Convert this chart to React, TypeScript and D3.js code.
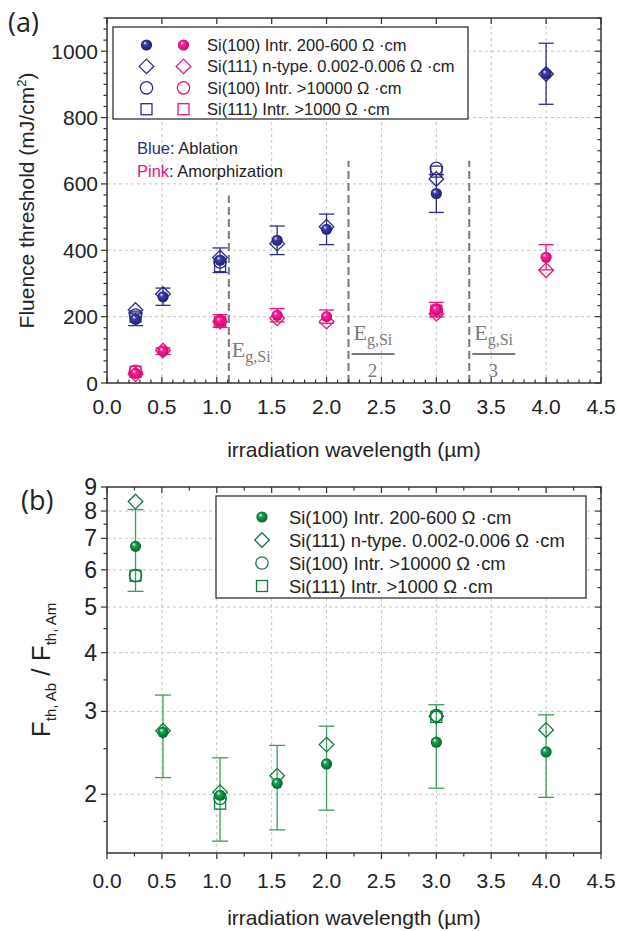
import React from 'react';
import * as d3 from 'd3';

// Irradiation wavelengths (µm)
const wavelengths = [0.26, 0.51, 1.03, 1.55, 2.0, 3.0, 4.0];
const sparseWavelengths = [0.26, 1.03, 3.0];

// Ablation thresholds (mJ/cm²)
const ablSi100Low = [192, 260, 370, 430, 463, 571, 932];
const ablSi100LowErr = [19, 26, 37, 43, 46, 57, 92];
const ablSi111N = [220, 268, 378, 420, 471, 615, 931];
const ablSi100High = [205, 365, 647];
const ablSi111Intr = [200, 352, 637];

// Amorphization thresholds (mJ/cm²)
const amoSi100Low = [29, 96, 187, 204, 200, 221, 379];
const amoSi100LowErr = [3, 10, 19, 20, 20, 22, 38];
const amoSi111N = [26, 98, 185, 195, 185, 209, 340];
const amoSi100High = [35, 186, 220];
const amoSi111Intr = [34, 184, 218];

// Threshold ratio F_th,Ab / F_th,Am
const ratioSi100Low = [6.73, 2.71, 1.99, 2.11, 2.32, 2.58, 2.46];
const ratioSi100LowErr = [1.33, 0.54, 0.4, 0.43, 0.47, 0.52, 0.49];
const ratioSi111N = [8.38, 2.73, 2.02, 2.19, 2.55, 2.93, 2.74];
const ratioSi100High = [5.83, 1.96, 2.94];
const ratioSi111Intr = [5.83, 1.91, 2.92];

// Band-gap wavelength multiples (µm) and the top of each marker line (mJ/cm²)
const bandGapLines = [1.11, 2.2, 3.3];
const bandGapLineTops = [565, 670, 670];

const legendLabels = [
  'Si(100) Intr. 200-600 \u03A9 \u00B7cm',
  'Si(111) n-type. 0.002-0.006 \u03A9 \u00B7cm',
  'Si(100) Intr. >10000 \u03A9 \u00B7cm',
  'Si(111) Intr. >1000 \u03A9 \u00B7cm',
];

const xTickLabels = ['0.0', '0.5', '1.0', '1.5', '2.0', '2.5', '3.0', '3.5', '4.0', '4.5'];
const yTicksA = [0, 200, 400, 600, 800, 1000];
const yTicksB = [2, 3, 4, 5, 6, 7, 8, 9];
const yMinorB = [1.75, 2.5, 3.5, 4.5, 5.5, 6.5, 7.5, 8.5];

const BLUE = '#2b2d86';
const PINK = '#e8137c';
const GREEN = '#0f7d3c';
const GREEN_ERR = '#3f9c5d';
const FRAME = '#333';
const GRID = '#c4c4c4';
const GAP = '#7a7a7a';
const SANS = '"Liberation Sans", Arial, sans-serif';
const SERIF = '"Liberation Serif", "DejaVu Serif", serif';

const xA = d3.scaleLinear().domain([0, 4.5]).range([107, 601]);
const yA = d3.scaleLinear().domain([0, 1100]).range([383, 18]);
const xB = d3.scaleLinear().domain([0, 4.5]).range([107, 601]);
const yB = d3.scaleLog().domain([1.5, 9]).range([853, 487]);

type Shape = 'sphere' | 'diamond' | 'circle' | 'square';

function Marker({ shape, x, y, color, grad, size = 1 }: { shape: Shape; x: number; y: number; color: string; grad: string; size?: number }) {
  const sw = 1.3;
  if (shape === 'sphere') return <circle cx={x} cy={y} r={5.6 * size} fill={`url(#${grad})`} />;
  if (shape === 'circle') return <circle cx={x} cy={y} r={6.2 * size} fill="none" stroke={color} strokeWidth={sw} />;
  if (shape === 'square') {
    const h = 5.5 * size;
    return <rect x={x - h} y={y - h} width={2 * h} height={2 * h} fill="none" stroke={color} strokeWidth={sw} />;
  }
  const d = 7.3 * size;
  return <path d={`M${x},${y - d}L${x + d},${y}L${x},${y + d}L${x - d},${y}Z`} fill="none" stroke={color} strokeWidth={sw} />;
}

function ErrorBars({ xs, ys, errs, xScale, yScale, color, cap, width = 1.3 }: any) {
  return (
    <g stroke={color} strokeWidth={width}>
      {xs.map((w: number, i: number) => {
        const x = xScale(w);
        const y1 = yScale(ys[i] + errs[i]);
        const y2 = yScale(ys[i] - errs[i]);
        return (
          <g key={i}>
            <line x1={x} x2={x} y1={y1} y2={y2} />
            <line x1={x - cap} x2={x + cap} y1={y1} y2={y1} />
            <line x1={x - cap} x2={x + cap} y1={y2} y2={y2} />
          </g>
        );
      })}
    </g>
  );
}

function Series({ xs, ys, shape, xScale, yScale, color, grad }: any) {
  return (
    <g>
      {xs.map((w: number, i: number) => (
        <Marker key={i} shape={shape} x={xScale(w)} y={yScale(ys[i])} color={color} grad={grad} />
      ))}
    </g>
  );
}

function Frame({ x0, x1, y0, y1 }: { x0: number; x1: number; y0: number; y1: number }) {
  return <rect x={x0} y={y1} width={x1 - x0} height={y0 - y1} fill="none" stroke={FRAME} strokeWidth={1.5} />;
}

function SphereGradient({ id, color }: { id: string; color: string }) {
  const c = d3.color(color)!;
  return (
    <radialGradient id={id} cx="0.5" cy="0.5" r="0.55" fx="0.33" fy="0.3">
      <stop offset="0" stopColor="#ffffff" />
      <stop offset="0.3" stopColor={c.brighter(0.9).formatHex()} />
      <stop offset="0.65" stopColor={color} />
      <stop offset="1" stopColor={c.darker(0.8).formatHex()} />
    </radialGradient>
  );
}

function EgLabel({ x, y, anchor = 'start' }: { x: number; y: number; anchor?: 'start' | 'middle' }) {
  return (
    <text x={x} y={y} fontFamily={SERIF} fontSize={22} fill={GAP} textAnchor={anchor}>
      E
      <tspan fontSize={16} dy={5}>g,Si</tspan>
    </text>
  );
}

function PanelA() {
  const [x0, x1] = xA.range();
  const [y0, y1] = yA.range();
  const xMinor = d3.range(0, 4.5001, 0.1);
  const yMinor = d3.range(0, 1100.01, 200 / 6);
  return (
    <g>
      {/* grid */}
      <g stroke={GRID} strokeWidth={1} strokeDasharray="3,3">
        {xTickLabels.slice(1, -1).map((t) => (
          <line key={t} x1={xA(+t)} x2={xA(+t)} y1={y0} y2={y1} />
        ))}
        {yTicksA.slice(1).map((t) => (
          <line key={t} x1={x0} x2={x1} y1={yA(t)} y2={yA(t)} />
        ))}
      </g>

      {/* band-gap markers */}
      <g stroke={GAP} strokeWidth={2} strokeDasharray="8,4">
        {bandGapLines.map((b, i) => (
          <line key={b} x1={xA(b)} x2={xA(b)} y1={y0} y2={yA(bandGapLineTops[i])} />
        ))}
      </g>
      <EgLabel x={xA(bandGapLines[0]) + 3} y={357} />
      {[2, 3].map((n, i) => {
        const cx = xA(bandGapLines[i + 1]) + 24;
        return (
          <g key={n}>
            <EgLabel x={cx - 19} y={340} />
            <line x1={cx - 21} x2={cx + 22} y1={354} y2={354} stroke={GAP} strokeWidth={2} />
            <text x={cx} y={377} fontFamily={SERIF} fontSize={19} fill={GAP} textAnchor="middle">{n}</text>
          </g>
        );
      })}

      {/* ticks */}
      <g stroke={FRAME} strokeWidth={1.2}>
        {xMinor.map((t, i) => {
          const len = i % 5 === 0 ? 6 : 3.5;
          return (
            <g key={i}>
              <line x1={xA(t)} x2={xA(t)} y1={y0} y2={y0 - len} />
              {i % 5 === 0 && <line x1={xA(t)} x2={xA(t)} y1={y1} y2={y1 + len} />}
            </g>
          );
        })}
        {yMinor.map((t, i) => {
          const len = i % 6 === 0 ? 6 : 3.5;
          return (
            <g key={i}>
              <line x1={x0} x2={x0 - len} y1={yA(t)} y2={yA(t)} />
              <line x1={x1} x2={x1 - len} y1={yA(t)} y2={yA(t)} />
            </g>
          );
        })}
      </g>
      <Frame x0={x0} x1={x1} y0={y0} y1={y1} />

      {/* tick labels */}
      <g fontFamily={SANS} fontSize={21} fill="#222">
        {xTickLabels.map((t) => (
          <text key={t} x={xA(+t)} y={y0 + 31} textAnchor="middle">{t}</text>
        ))}
        {yTicksA.map((t) => (
          <text key={t} x={x0 - 9} y={yA(t) + 7.5} textAnchor="end">{t}</text>
        ))}
      </g>
      <text x={(x0 + x1) / 2} y={y0 + 74} fontFamily={SANS} fontSize={21} fill="#222" textAnchor="middle">
        irradiation wavelength (µm)
      </text>
      <text transform={`translate(34,${(y0 + y1) / 2}) rotate(-90)`} fontFamily={SANS} fontSize={21} fill="#222" textAnchor="middle">
        Fluence threshold (mJ/cm<tspan fontSize={13} dy={-8}>2</tspan><tspan dy={8}>)</tspan>
      </text>

      {/* data */}
      <ErrorBars xs={wavelengths} ys={ablSi100Low} errs={ablSi100LowErr} xScale={xA} yScale={yA} color={BLUE} cap={7.5} />
      <ErrorBars xs={wavelengths} ys={amoSi100Low} errs={amoSi100LowErr} xScale={xA} yScale={yA} color={PINK} cap={7.5} />
      <Series xs={sparseWavelengths} ys={ablSi111Intr} shape="square" xScale={xA} yScale={yA} color={BLUE} />
      <Series xs={sparseWavelengths} ys={ablSi100High} shape="circle" xScale={xA} yScale={yA} color={BLUE} />
      <Series xs={wavelengths} ys={ablSi111N} shape="diamond" xScale={xA} yScale={yA} color={BLUE} />
      <Series xs={wavelengths} ys={ablSi100Low} shape="sphere" xScale={xA} yScale={yA} color={BLUE} grad="gBlue" />
      <Series xs={sparseWavelengths} ys={amoSi111Intr} shape="square" xScale={xA} yScale={yA} color={PINK} />
      <Series xs={sparseWavelengths} ys={amoSi100High} shape="circle" xScale={xA} yScale={yA} color={PINK} />
      <Series xs={wavelengths} ys={amoSi111N} shape="diamond" xScale={xA} yScale={yA} color={PINK} />
      <Series xs={wavelengths} ys={amoSi100Low} shape="sphere" xScale={xA} yScale={yA} color={PINK} grad="gPink" />

      {/* legend */}
      <rect x={113} y={27} width={355} height={92} fill="#fff" stroke={FRAME} strokeWidth={1.3} />
      {legendLabels.map((lab, i) => {
        const shape: Shape = (['sphere', 'diamond', 'circle', 'square'] as Shape[])[i];
        const y = 45 + i * 21.4;
        return (
          <g key={lab}>
            <Marker shape={shape} x={146.5} y={y} color={BLUE} grad="gBlue" />
            <Marker shape={shape} x={183.5} y={y} color={PINK} grad="gPink" />
            <text x={207} y={y + 6} fontFamily={SANS} fontSize={16.5} fill="#222">{lab}</text>
          </g>
        );
      })}

      <text x={137} y={154} fontFamily={SANS} fontSize={16.5} fill="#222">
        <tspan fill={BLUE}>Blue</tspan>: Ablation
      </text>
      <text x={137} y={177} fontFamily={SANS} fontSize={16.5} fill="#222">
        <tspan fill={PINK}>Pink</tspan>: Amorphization
      </text>

      <text x={8} y={32} fontFamily='"Open Sans", sans-serif' fontSize={27} fill="#222">(a)</text>
    </g>
  );
}

function PanelB() {
  const [x0, x1] = xB.range();
  const [y0, y1] = yB.range();
  const xMinor = d3.range(0, 4.5001, 0.25);
  return (
    <g>
      <g stroke={GRID} strokeWidth={1} strokeDasharray="3,3">
        {xTickLabels.slice(1, -1).map((t) => (
          <line key={t} x1={xB(+t)} x2={xB(+t)} y1={y0} y2={y1} />
        ))}
        {yTicksB.slice(0, -1).map((t) => (
          <line key={t} x1={x0} x2={x1} y1={yB(t)} y2={yB(t)} />
        ))}
      </g>

      <g stroke={FRAME} strokeWidth={1.2}>
        {xMinor.map((t, i) => {
          const len = i % 2 === 0 ? 6 : 3.5;
          return (
            <g key={i}>
              <line x1={xB(t)} x2={xB(t)} y1={y0} y2={y0 + len} />
              <line x1={xB(t)} x2={xB(t)} y1={y1} y2={y1 + len} />
            </g>
          );
        })}
        {yTicksB.map((t) => (
          <g key={t}>
            <line x1={x0} x2={x0 - 6} y1={yB(t)} y2={yB(t)} />
            <line x1={x1} x2={x1 - 6} y1={yB(t)} y2={yB(t)} />
          </g>
        ))}
        {yMinorB.map((t) => (
          <g key={t}>
            <line x1={x0} x2={x0 - 3.5} y1={yB(t)} y2={yB(t)} />
            <line x1={x1} x2={x1 - 3.5} y1={yB(t)} y2={yB(t)} />
          </g>
        ))}
      </g>
      <Frame x0={x0} x1={x1} y0={y0} y1={y1} />

      <g fontFamily={SANS} fontSize={21} fill="#222">
        {xTickLabels.map((t) => (
          <text key={t} x={xB(+t)} y={y0 + 35} textAnchor="middle">{t}</text>
        ))}
        {yTicksB.map((t) => (
          <text key={t} x={x0 - 10} y={yB(t) + 8} textAnchor="end" fontSize={23}>{t}</text>
        ))}
      </g>
      <text x={(x0 + x1) / 2} y={y0 + 72} fontFamily={SANS} fontSize={21} fill="#222" textAnchor="middle">
        irradiation wavelength (µm)
      </text>
      <text transform={`translate(50,${(y0 + y1) / 2}) rotate(-90)`} fontFamily={SANS} fontSize={26} fill="#222" textAnchor="middle">
        F<tspan fontSize={15} dy={6}>th, Ab</tspan>
        <tspan dy={-6}> / F</tspan>
        <tspan fontSize={15} dy={6}>th, Am</tspan>
      </text>

      <ErrorBars xs={wavelengths} ys={ratioSi100Low} errs={ratioSi100LowErr} xScale={xB} yScale={yB} color={GREEN_ERR} cap={8} />
      <Series xs={sparseWavelengths} ys={ratioSi111Intr} shape="square" xScale={xB} yScale={yB} color={GREEN} />
      <Series xs={sparseWavelengths} ys={ratioSi100High} shape="circle" xScale={xB} yScale={yB} color={GREEN} />
      <Series xs={wavelengths} ys={ratioSi111N} shape="diamond" xScale={xB} yScale={yB} color={GREEN} />
      <Series xs={wavelengths} ys={ratioSi100Low} shape="sphere" xScale={xB} yScale={yB} color={GREEN} grad="gGreen" />

      <rect x={216} y={496} width={370} height={102} fill="#fff" stroke={FRAME} strokeWidth={1.3} />
      {legendLabels.map((lab, i) => {
        const shape: Shape = (['sphere', 'diamond', 'circle', 'square'] as Shape[])[i];
        const y = 517 + i * 23;
        return (
          <g key={lab}>
            <Marker shape={shape} x={262} y={y} color={GREEN} grad="gGreen" />
            <text x={289} y={y + 6.5} fontFamily={SANS} fontSize={18.4} fill="#222">{lab}</text>
          </g>
        );
      })}

      <text x={21} y={510} fontFamily='"Open Sans", sans-serif' fontSize={27} fill="#222">(b)</text>
    </g>
  );
}

export default function App() {
  return (
    <svg width={617} height={931} viewBox="0 0 617 931" style={{ position: 'absolute', left: 0, top: 0, background: '#fff' }}>
      <defs>
        <SphereGradient id="gBlue" color={BLUE} />
        <SphereGradient id="gPink" color={PINK} />
        <SphereGradient id="gGreen" color={GREEN} />
      </defs>
      <rect width={617} height={931} fill="#fff" />
      <PanelA />
      <PanelB />
    </svg>
  );
}
